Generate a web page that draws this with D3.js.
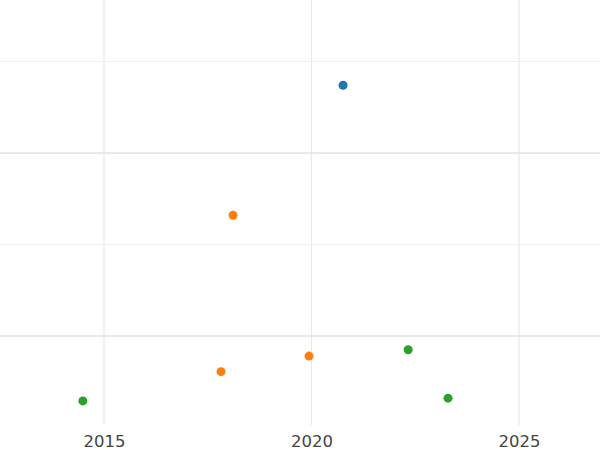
<!DOCTYPE html>
<html><head><meta charset="utf-8">
<script src="https://cdn.jsdelivr.net/npm/d3@7"></script>
<style>body{margin:0;background:#fff}</style></head>
<body><svg id="c" width="600" height="450"></svg>
<script>
const seriesNames=["A","B","C"];
const colors=["#1f77b4","#ff7f0e","#2ca02c"];
const xs=[[2020.76],[2018.11,2017.82,2019.94],[2014.49,2022.33,2023.29]];
const ys=[[2.74],[1.32,-0.39,-0.22],[-0.71,-0.15,-0.68]];
const xTicks=[2015,2020,2025];
const yMajor=[0,2], yMinor=[1,3];
const svg=d3.select("#c");
const x=d3.scaleLinear().domain([2012.494,2026.952]).range([0,600]);
const y=d3.scaleLinear().domain([-0.973,3.672]).range([425,0]);
const g=svg.append("g");
g.selectAll(".v").data(xTicks).join("line").attr("x1",d=>x(d)).attr("x2",d=>x(d)).attr("y1",0).attr("y2",425).attr("stroke","#e8e8e8").attr("stroke-width",1.2);
g.selectAll(".mj").data(yMajor).join("line").attr("x1",0).attr("x2",600).attr("y1",d=>y(d)).attr("y2",d=>y(d)).attr("stroke","#e3e3e3").attr("stroke-width",1.5);
g.selectAll(".mn").data(yMinor).join("line").attr("x1",0).attr("x2",600).attr("y1",d=>y(d)).attr("y2",d=>y(d)).attr("stroke","#efefef").attr("stroke-width",1);
const ax=svg.append("g").attr("transform","translate(0,425)").call(d3.axisBottom(x).tickValues(xTicks).tickFormat(d3.format("d")).tickSize(0).tickPadding(10));
ax.select(".domain").remove();
ax.selectAll("text").attr("fill","#444").attr("font-size",16.5).attr("font-family","DejaVu Sans");
seriesNames.forEach((s,i)=>{
  svg.append("g").selectAll("circle").data(xs[i].map((v,j)=>[v,ys[i][j]])).join("circle")
   .attr("cx",d=>x(d[0])).attr("cy",d=>y(d[1])).attr("r",4.5).attr("fill",colors[i]);
});
</script></body></html>
